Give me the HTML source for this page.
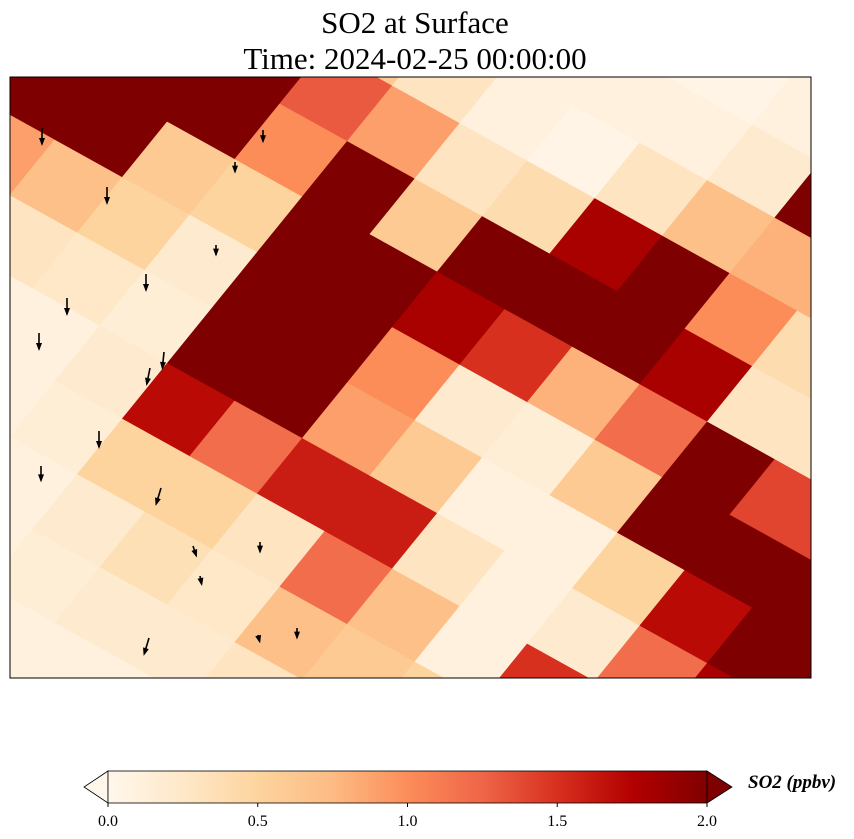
<!DOCTYPE html>
<html><head><meta charset="utf-8"><style>
html,body{margin:0;padding:0;background:#fff;overflow:hidden;width:854px;height:839px;}
svg{display:block;font-family:"Liberation Serif",serif;}
</style></head><body>
<svg id="chart" width="854" height="839" viewBox="0 0 854 839" xmlns="http://www.w3.org/2000/svg">
<defs>
<clipPath id="plotclip"><rect x="10" y="77" width="801" height="601"/></clipPath>
<linearGradient id="cbgrad" x1="0" x2="1" y1="0" y2="0">
<stop offset="0" stop-color="#fff7ec"/><stop offset="0.125" stop-color="#fee8c8"/><stop offset="0.25" stop-color="#fdd49e"/><stop offset="0.375" stop-color="#fdbb84"/><stop offset="0.5" stop-color="#fc8d59"/><stop offset="0.625" stop-color="#ef6548"/><stop offset="0.75" stop-color="#d7301f"/><stop offset="0.875" stop-color="#b30000"/><stop offset="1" stop-color="#7f0000"/>
</linearGradient>
</defs>
<text x="415" y="33" font-size="31" text-anchor="middle">SO2 at Surface</text>
<text x="415" y="69" font-size="31" text-anchor="middle">Time: 2024-02-25 00:00:00</text>
<g id="cells" clip-path="url(#plotclip)"></g>
<g id="arrows" clip-path="url(#plotclip)"></g>
<rect x="10" y="77" width="801" height="601" fill="none" stroke="#000" stroke-width="1"/>
<g>
<polygon points="108,771 84,787 108,803" fill="#fff7ec" stroke="#000" stroke-width="0.8"/>
<polygon points="707,771 732,787 707,803" fill="#7f0000" stroke="#000" stroke-width="0.8"/>
<rect x="108" y="771" width="599" height="32" fill="url(#cbgrad)" stroke="#000" stroke-width="0.8"/>
<g id="cbticks"></g>
<text x="748" y="788" font-size="19" font-weight="bold" font-style="italic">SO2 (ppbv)</text>
</g>
</svg>
<script>
const rowIndex = [0,1,2,3,4,5,6,7,8,9,10,11,12,13];
const colIndex = [-6,-5,-4,-3,-2,-1,0,1,2,3,4,5,6,7,8];
const so2Row0 = [0.1,0.1,0.1,0.1,0.1,0.1,0.1,0.1,0.2,0.2,0.2,0.2,0.2,0.2,0.3];
const so2Row1 = [0.1,0.1,0.1,0.1,0.1,0.15,0.2,0.2,0.3,0.3,0.3,0.3,0.3,0.3,0.3];
const so2Row2 = [0.1,0.1,0.1,0.1,0.1,0.2,0.35,0.25,0.7,0.6,0.5,0.5,0.5,0.5,0.3];
const so2Row3 = [0.1,0.1,0.1,0.1,0.15,0.5,0.5,0.3,1.2,0.7,0.1,1.5,1.5,1.5,0.3];
const so2Row4 = [0.1,0.1,0.1,0.1,0.2,1.7,1.2,1.6,1.6,0.3,0.1,0.2,1.2,1.8,2.0];
const so2Row5 = [0.1,0.1,0.3,0.25,0.15,2.0,2.2,0.9,0.6,0.1,0.1,0.5,1.7,2.0,2.0];
const so2Row6 = [0.5,0.9,0.7,0.5,0.2,2.2,2.2,1.0,0.2,0.15,0.6,2.0,2.0,2.0,1.5];
const so2Row7 = [2.0,2.0,2.0,0.6,0.5,2.2,2.2,1.8,1.5,0.8,1.2,2.0,1.4,1.4,1.5];
const so2Row8 = [2.0,2.0,2.0,2.0,1.0,2.2,0.6,2.0,2.2,2.2,1.8,0.3,0.3,0.3,0.5];
const so2Row9 = [2.0,2.0,2.0,2.0,1.3,0.9,0.3,0.4,1.8,2.2,1.0,0.4,0.4,0.4,0.5];
const so2Row10 = [0.8,0.8,0.8,0.8,0.6,0.3,0.1,0.05,0.3,0.7,0.8,0.8,0.8,0.8,1.0];
const so2Row11 = [0.3,0.3,0.3,0.3,0.3,0.2,0.1,0.1,0.1,0.2,2.0,2.0,2.0,2.0,2.0];
const so2Row12 = [0.1,0.1,0.1,0.1,0.1,0.1,0.05,0.05,0.05,0.1,0.1,0.1,0.1,0.1,0.1];
const so2Row13 = [0.05,0.05,0.05,0.05,0.05,0.05,0.05,0.05,0.05,0.05,0.05,0.05,0.05,0.05,0.05];
const so2Rows = [so2Row0,so2Row1,so2Row2,so2Row3,so2Row4,so2Row5,so2Row6,so2Row7,so2Row8,so2Row9,so2Row10,so2Row11,so2Row12,so2Row13];
const cbTickValues = [0.0,0.5,1.0,1.5,2.0];
const cbTickLabels = ["0.0","0.5","1.0","1.5","2.0"];
const windU = [0,0,0,0,0,-0.1,-0.2,0,0,-0.3,0.2,0.1,-0.3,0,0,0,0,0,0.1];
const windV = [-1,-1,-1,-1,-1,-1,-1,-1,-0.9,-1,-0.6,-0.5,-1,-0.7,-0.6,-0.6,-0.6,-0.6,-0.4];
const windX = [42,107,67,39,146,164,150,99,41,161,193,200,149,263,235,216,260,297,258];
const windY = [128,187,298,333,274,352,368,431,466,488,546,576,638,130,162,245,542,628,635];

const ns="http://www.w3.org/2000/svg";
const O=[10,678], A=[45,-55.5], B=[67.5,37.5];
const stops=["#fff7ec","#fee8c8","#fdd49e","#fdbb84","#fc8d59","#ef6548","#d7301f","#b30000","#7f0000"];
function hex(c){return [parseInt(c.substr(1,2),16),parseInt(c.substr(3,2),16),parseInt(c.substr(5,2),16)];}
function cmap(v){let t=Math.max(0,Math.min(1,v/2))*(stops.length-1);let k=Math.min(stops.length-2,Math.floor(t));let f=t-k;
 const a=hex(stops[k]),b=hex(stops[k+1]);return "rgb("+a.map((x,n)=>Math.round(x+(b[n]-x)*f)).join(",")+")";}
function pt(i,j){return [O[0]+i*A[0]+j*B[0],O[1]+i*A[1]+j*B[1]];}
const cells=document.getElementById('cells');
rowIndex.forEach((i,ri)=>{colIndex.forEach((j,ci)=>{
 const v=so2Rows[ri][ci];
 const p=[pt(i,j),pt(i+1,j),pt(i+1,j+1),pt(i,j+1)];
 const xs=p.map(q=>q[0]), ys=p.map(q=>q[1]);
 if(Math.max(...xs)<10||Math.min(...xs)>811||Math.max(...ys)<77||Math.min(...ys)>678) return;
 const poly=document.createElementNS(ns,'polygon');
 poly.setAttribute('points',p.map(q=>q.join(',')).join(' '));
 poly.setAttribute('fill',cmap(v));poly.setAttribute('stroke',cmap(v));poly.setAttribute('stroke-width','0.6');
 
 
 cells.appendChild(poly);
});});
const arrows=document.getElementById('arrows');
windX.forEach((x,k)=>{
 const u=windU[k],v=windV[k],L=16;const x2=x+u*L,y2=windY[k]-v*L;
 const g=document.createElementNS(ns,'g');
 
 
 const ln=document.createElementNS(ns,'line');
 ln.setAttribute('x1',x);ln.setAttribute('y1',windY[k]);ln.setAttribute('x2',x2);ln.setAttribute('y2',y2);
 ln.setAttribute('stroke','#000');ln.setAttribute('stroke-width','1.6');
 const ang=Math.atan2(y2-windY[k],x2-x);
 const h=document.createElementNS(ns,'polygon');
 const hx=[x2+Math.cos(ang)*2,y2+Math.sin(ang)*2],l=[x2-Math.cos(ang)*6+Math.sin(ang)*3,y2-Math.sin(ang)*6-Math.cos(ang)*3],r=[x2-Math.cos(ang)*6-Math.sin(ang)*3,y2-Math.sin(ang)*6+Math.cos(ang)*3];
 h.setAttribute('points',[hx,l,r].map(q=>q.join(',')).join(' '));h.setAttribute('fill','#000');
 g.appendChild(ln);g.appendChild(h);arrows.appendChild(g);
});
const cbt=document.getElementById('cbticks');
function cbX(v){return 108+v/2*599;}
cbTickValues.forEach((v,k)=>{
 const t=document.createElementNS(ns,'line');
 t.setAttribute('x1',cbX(v));t.setAttribute('x2',cbX(v));t.setAttribute('y1',803);t.setAttribute('y2',807);t.setAttribute('stroke','#000');
 
 
 cbt.appendChild(t);
 const tx=document.createElementNS(ns,'text');
 tx.setAttribute('x',cbX(v));tx.setAttribute('y',826);tx.setAttribute('font-size','16');tx.setAttribute('text-anchor','middle');
 tx.textContent=cbTickLabels[k];
 
 
 cbt.appendChild(tx);
});
</script>
</body></html>
